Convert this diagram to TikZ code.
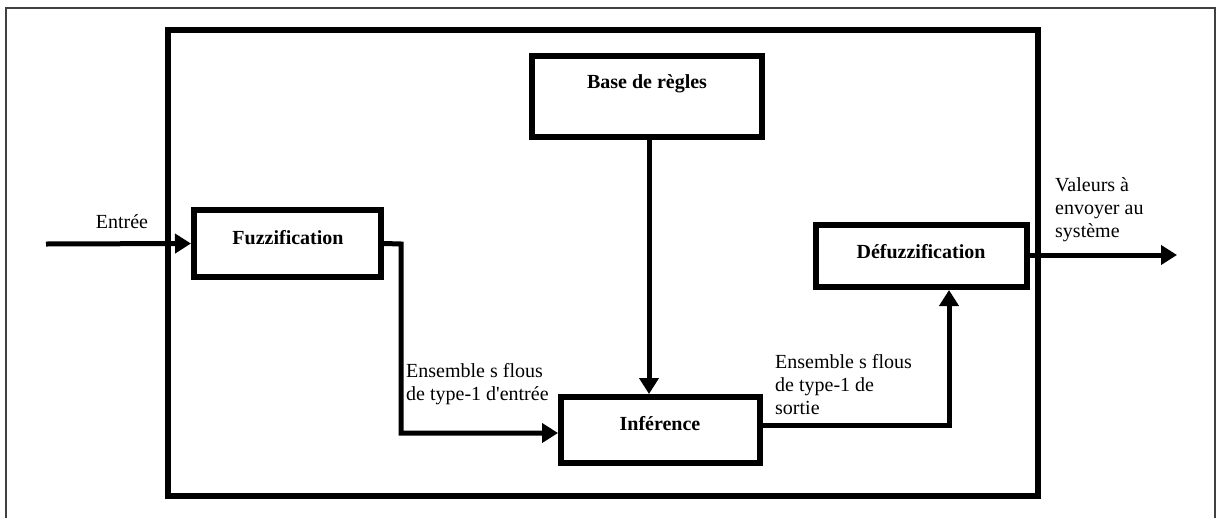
\documentclass[tikz,border=0pt]{standalone}
\usepackage{fontspec}
\setmainfont{Liberation Serif}
\usetikzlibrary{arrows.meta}
\begin{document}
\begin{tikzpicture}[x=1pt,y=-1pt,
  box/.style={draw=black,line width=6pt,minimum width=#1,inner sep=0pt},
  conn/.style={line width=5pt,-{Triangle[length=16pt,width=19pt]}},
  btxt/.style={font=\fontsize{20}{23}\selectfont\bfseries,inner sep=0pt},
  lbl/.style={font=\fontsize{20}{23}\selectfont,inner sep=0pt,align=left,anchor=west}]
\useasboundingbox (0,0) rectangle (1217,517);
\fill[white] (0,0) rectangle (1217,517);
% outer thin frame
\draw[line width=1.5pt,black!75] (6,8) rectangle (1215,540);
% big frame
\draw[line width=6pt] (168,30) rectangle (1038,496);
% boxes
\node[box=230pt,minimum height=81pt] (base) at (647,96.5) {};
\node[box=187pt,minimum height=67pt] (fuzz) at (287.5,243.5) {};
\node[box=199pt,minimum height=65.5pt] (inf) at (660.5,429.75) {};
\node[box=211pt,minimum height=62pt] (defuzz) at (921.5,256) {};
% box texts
\node[btxt] (basetxt) at (647,84) {Base de règles};
\node[btxt] (fuzztxt) at (288,238) {Fuzzification};
\node[btxt] (inftxt) at (660,424) {Inférence};
\node[btxt] (defuzztxt) at (921,252) {Défuzzification};
% coordinates
\coordinate (in) at (46,244);
\coordinate (out) at (1177,255);
\coordinate (c1) at (401,244);
\coordinate (c2) at (401,433);
\coordinate (c3) at (949,425);
% connectors
\draw[conn] (in) -- (fuzz.west);
\draw[conn,line join=miter] (fuzz.east) -- (c1) -- (c2) -- (c2 -| inf.west);
\draw[conn] (base.south -| 649,0) -- (inf.north -| 649,0);
\draw[conn,line join=miter] (inf.east |- c3) -- (c3) -- (c3 |- defuzz.south);
\draw[conn] (defuzz.east |- out) -- (out);
% labels
\node[font=\fontsize{20}{23}\selectfont,inner sep=0pt] (entree) at (122,222) {Entrée};
\node[lbl] (ens1) at (406,384) {Ensemble s flous\\de type-1 d\textquotesingle entrée};
\node[lbl] (ens2) at (775,385) {Ensemble s flous\\de type-1 de\\sortie};
\node[lbl] (val) at (1055,210) {Valeurs à\\envoyer au\\système};
\end{tikzpicture}
\end{document}
